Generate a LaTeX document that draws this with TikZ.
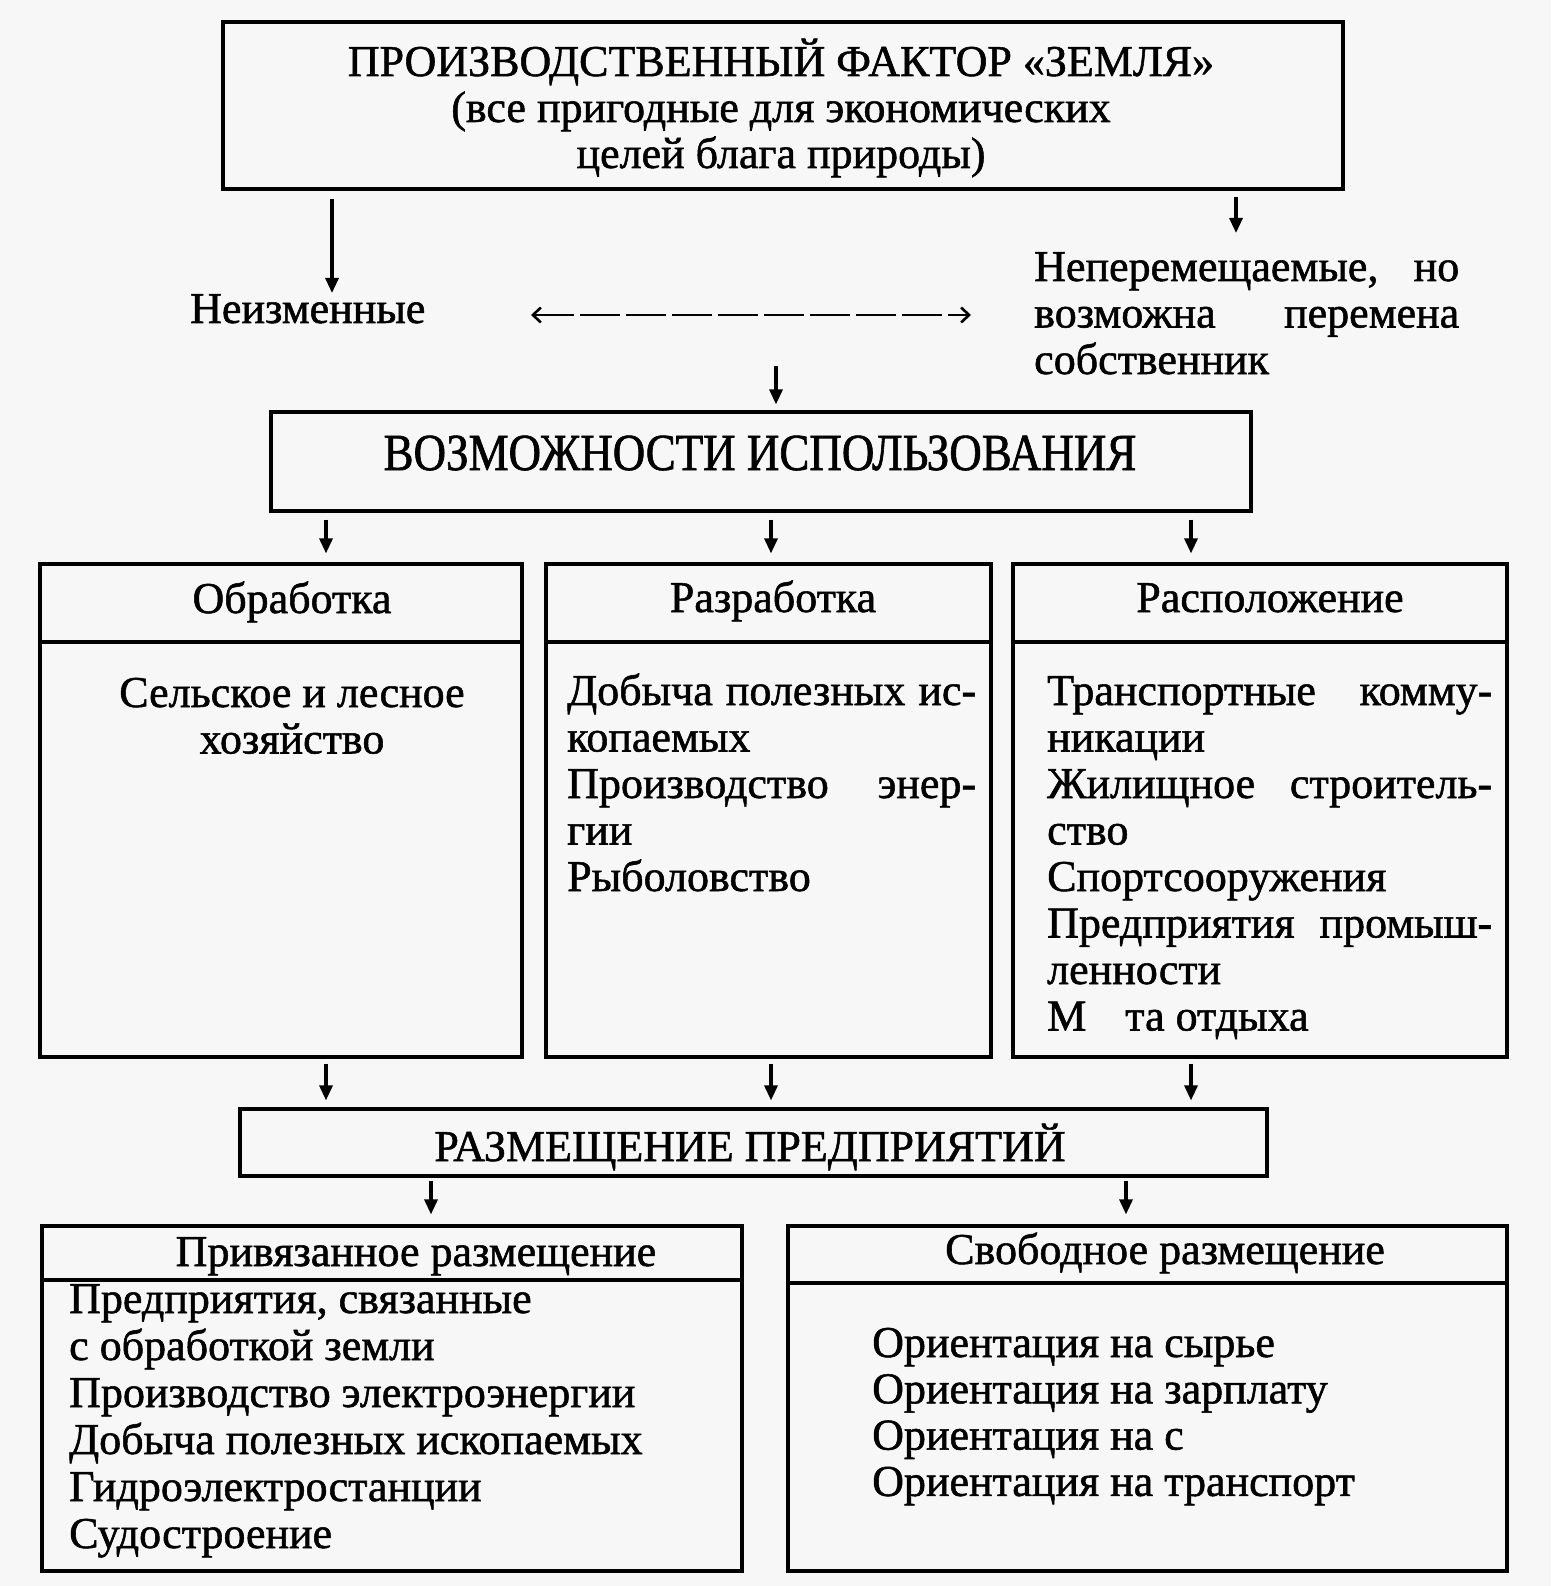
\documentclass[tikz,border=0pt]{standalone}
\usepackage{fontspec}
\setmainfont{Liberation Serif}[FakeBold=1.2]
\newfontfamily\condf[FakeStretch=0.865,FakeBold=1.2]{Liberation Serif}
\usetikzlibrary{arrows.meta}
\definecolor{bg}{RGB}{247,247,247}
\newcommand\Lines[3][46.5pt]{\vtop{\hsize=#2\relax\baselineskip=#1\relax\lineskiplimit=-100pt\lineskip=0pt #3}}
\newcommand\J[1]{\hbox to\hsize{#1}}
\newcommand\Lft[1]{\hbox to\hsize{#1\hfil}}
\newcommand\Ctr[1]{\hbox to\hsize{\hfil#1\hfil}}
\tikzset{
  box/.style={draw, line width=3.2pt, inner sep=0pt},
  boxline/.style={line width=3.2pt},
  txt/.style={inner sep=0pt, font=\fontsize{44}{46.5}\selectfont},
  arr/.style={line width=3.2pt, -{Triangle[length=15pt,width=13pt]}},
  dasharr/.style={line width=2.2pt, dash pattern=on 40pt off 6pt, {Straight Barb[length=8pt,width=15pt,line width=2.6pt]}-{Straight Barb[length=8pt,width=15pt,line width=2.6pt]}}
}
\begin{document}
\begin{tikzpicture}[x=1pt,y=-1pt]
\fill[bg] (0,0) rectangle (1551,1586);
\useasboundingbox (0,0) rectangle (1551,1586);
% x positions of connectors
\coordinate (xL) at (332,0);
\coordinate (xR) at (1236,0);
\coordinate (x1) at (326,0);
\coordinate (x2) at (771,0);
\coordinate (x3) at (1191,0);
\coordinate (xb1) at (431,0);
\coordinate (xb2) at (1126,0);
% top box
\node[box, minimum width=1120pt, minimum height=167pt] (top) at (783,105.5) {};
\node[txt, anchor=base] (title) at (781,76) {\Lines[46pt]{1000pt}{\Ctr{ПРОИЗВОДСТВЕННЫЙ ФАКТОР «ЗЕМЛЯ»}\Ctr{(все пригодные для экономических}\Ctr{целей блага природы)}}};
% second level
\node[txt, anchor=base west] (neiz) at (190,323) {Неизменные};
\node[txt, anchor=base west] (nepe) at (1034,281) {\Lines{425pt}{\J{Неперемещаемые,\hfill но}\J{возможна\hfill перемена}\Lft{собственник}}};
\draw[arr, shorten <=8pt, shorten >=1pt] (top.south -| xL) -- (neiz.north -| xL);
\draw[arr, shorten <=6pt, shorten >=19pt] (top.south -| xR) -- (nepe.north -| xR);
\coordinate (dl) at (531,315);
\coordinate (dr) at (971,315);
\draw[dasharr] (dl) -- (dr);
% possibilities
\node[box, minimum width=980pt, minimum height=99pt] (voz) at (761,461.5) {};
\node[txt, anchor=base] (voztxt) at (760,470) {\condf\fontsize{52}{56}\selectfont ВОЗМОЖНОСТИ ИСПОЛЬЗОВАНИЯ};
\coordinate (mstart) at (776,366);
\draw[arr, shorten >=6pt] (mstart) -- (voz.north -| mstart);
% columns
\node[box, minimum width=482pt, minimum height=493pt] (colA) at (281,810.5) {};
\node[box, minimum width=445pt, minimum height=493pt] (colB) at (768.5,810.5) {};
\node[box, minimum width=494pt, minimum height=493pt] (colC) at (1260,810.5) {};
\draw[boxline] (40,642) -- (522,642);
\draw[boxline] (546,642) -- (991,642);
\draw[boxline] (1013,642) -- (1507,642);
\node[txt, anchor=base] (hA) at (292,613) {Обработка};
\node[txt, anchor=base] (hB) at (773,612) {Разработка};
\node[txt, anchor=base] (hC) at (1270,612) {Расположение};
\node[txt, anchor=base] (bA) at (292,707) {\Lines{460pt}{\Ctr{Сельское и лесное}\Ctr{хозяйство}}};
\node[txt, anchor=base west] (bB) at (567,705) {\Lines{409pt}{\J{Добыча\hfill полезных\hfill ис-}\Lft{копаемых}\J{Производство\hfill энер-}\Lft{гии}\Lft{Рыболовство}}};
\node[txt, anchor=base west] (bC) at (1047,705) {\Lines{445pt}{\J{Транспортные\hfill комму-}\Lft{никации}\J{Жилищное\hfill строитель-}\Lft{ство}\Lft{Спортсооружения}\J{Предприятия\hfill промыш-}\Lft{ленности}\Lft{М\hspace{39pt}та отдыха}}};
\draw[arr, shorten <=7pt, shorten >=9pt] (voz.south -| x1) -- (colA.north -| x1);
\draw[arr, shorten <=7pt, shorten >=9pt] (voz.south -| x2) -- (colB.north -| x2);
\draw[arr, shorten <=7pt, shorten >=9pt] (voz.south -| x3) -- (colC.north -| x3);
% placement
\node[box, minimum width=1027pt, minimum height=67pt] (razm) at (753.5,1142.5) {};
\node[txt, anchor=base] (razmtxt) at (750,1161) {РАЗМЕЩЕНИЕ ПРЕДПРИЯТИЙ};
\draw[arr, shorten <=5pt, shorten >=7pt] (colA.south -| x1) -- (razm.north -| x1);
\draw[arr, shorten <=5pt, shorten >=7pt] (colB.south -| x2) -- (razm.north -| x2);
\draw[arr, shorten <=5pt, shorten >=7pt] (colC.south -| x3) -- (razm.north -| x3);
% bottom boxes
\node[box, minimum width=700pt, minimum height=345pt] (bl) at (392,1398.5) {};
\node[box, minimum width=719pt, minimum height=345pt] (br) at (1147.5,1398.5) {};
\draw[boxline] (42,1280) -- (742,1280);
\draw[boxline] (788,1283) -- (1507,1283);
\node[txt, anchor=base] (hbl) at (416,1266) {Привязанное размещение};
\node[txt, anchor=base] (hbr) at (1165,1264) {Свободное размещение};
\node[txt, anchor=base west] (bbl) at (69,1313) {\Lines[47pt]{660pt}{\Lft{Предприятия, связанные}\Lft{с обработкой земли}\Lft{Производство электроэнергии}\Lft{Добыча полезных ископаемых}\Lft{Гидроэлектростанции}\Lft{Судостроение}}};
\node[txt, anchor=base west] (bbr) at (872,1357) {\Lines[46.3pt]{600pt}{\Lft{Ориентация на сырье}\Lft{Ориентация на зарплату}\Lft{Ориентация на с}\Lft{Ориентация на транспорт}}};
\draw[arr, shorten <=3pt, shorten >=10pt] (razm.south -| xb1) -- (bl.north -| xb1);
\draw[arr, shorten <=3pt, shorten >=10pt] (razm.south -| xb2) -- (br.north -| xb2);
\end{tikzpicture}
\end{document}
